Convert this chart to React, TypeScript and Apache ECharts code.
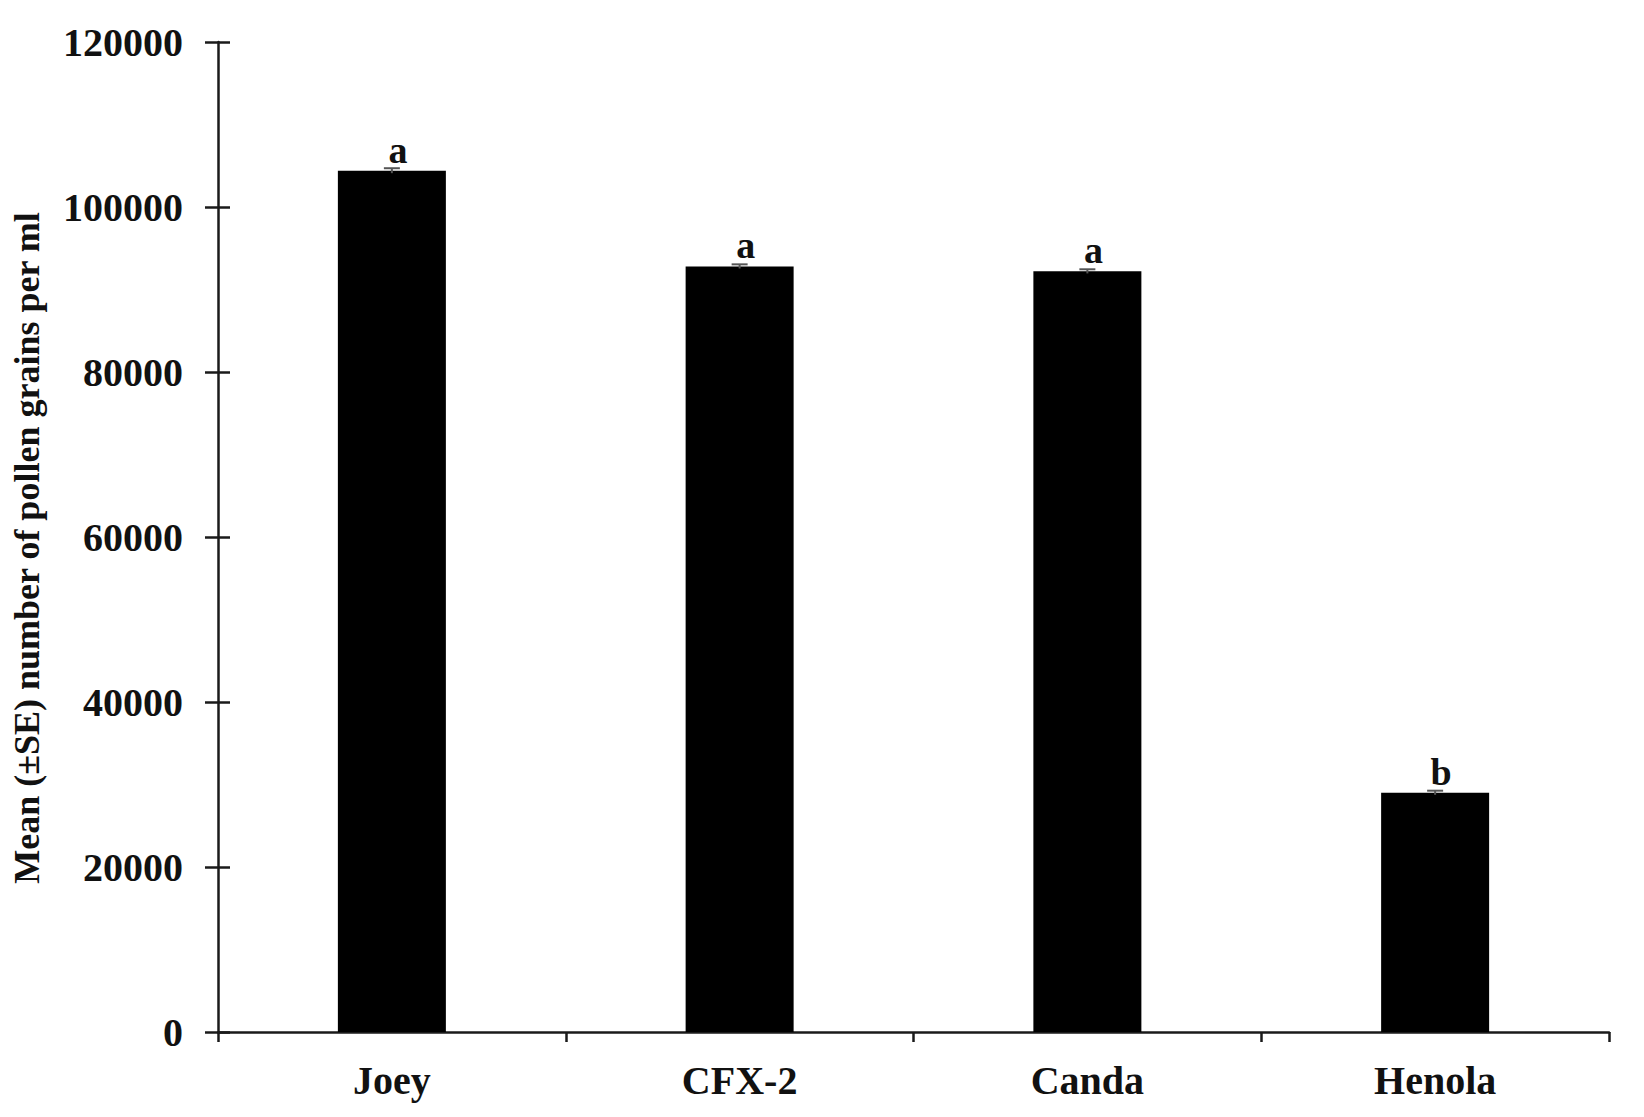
import React, { useEffect, useRef } from "react";
import * as echarts from "echarts";

const categories = ["Joey", "CFX-2", "Canda", "Henola"];
const meanValues = [104400, 92800, 92200, 29000];
const seValues = [300, 250, 250, 250];
const letters = ["a", "a", "a", "b"];
const yTicks = [0, 20000, 40000, 60000, 80000, 100000, 120000];
const yTitle = "Mean (\u00b1SE) number of pollen grains per ml";

const FONT = '"Liberation Serif", "Times New Roman", serif';

export default function App() {
  const ref = useRef<HTMLDivElement>(null);
  useEffect(() => {
    if (!ref.current) return;
    const chart = echarts.init(ref.current, undefined, { renderer: "svg" });
    const yMin = yTicks[0];
    const yMax = yTicks[yTicks.length - 1];
    const yInterval = yTicks[1] - yTicks[0];
    chart.setOption({
      animation: false,
      backgroundColor: "#ffffff",
      grid: {
        left: 218,
        right: 35,
        top: 42,
        bottom: 85,
        containLabel: false,
        outerBoundsMode: "none",
      },
      graphic: [
        {
          type: "text",
          x: 27,
          y: 548,
          rotation: Math.PI / 2,
          style: {
            text: yTitle,
            fill: "#111",
            font: `bold 36px ${FONT}`,
            align: "center",
            verticalAlign: "middle",
          },
        },
      ],
      xAxis: {
        type: "category",
        data: categories,
        axisLine: { lineStyle: { color: "#1a1a1a", width: 2.5 } },
        axisTick: { show: true, length: 10, lineStyle: { color: "#1a1a1a", width: 2.5 } },
        axisLabel: {
          margin: 28,
          color: "#111",
          fontFamily: FONT,
          fontWeight: "bold",
          fontSize: 40,
        },
      },
      yAxis: [
        {
          type: "value",
          min: yMin,
          max: yMax,
          interval: yInterval,
          splitLine: { show: false },
          axisLine: { show: true, lineStyle: { color: "#1a1a1a", width: 2.5 } },
          axisTick: { show: true, length: 13, lineStyle: { color: "#1a1a1a", width: 2.5 } },
          axisLabel: {
            margin: 35,
            color: "#111",
            fontFamily: FONT,
            fontWeight: "bold",
            fontSize: 40,
            formatter: (v: number) => String(v),
          },
        },
        {
          type: "value",
          position: "left",
          min: yMin,
          max: yMax,
          interval: yInterval,
          splitLine: { show: false },
          axisLine: { show: false },
          axisTick: { show: true, inside: true, length: 12, lineStyle: { color: "#1a1a1a", width: 2.5 } },
          axisLabel: { show: false },
        },
      ],
      series: [
        {
          type: "bar",
          data: meanValues,
          barWidth: 108,
          itemStyle: { color: "#000000" },
          label: {
            show: true,
            position: "top",
            distance: 2,
            offset: [6, 0],
            formatter: (p: any) => letters[p.dataIndex],
            color: "#111",
            fontFamily: FONT,
            fontWeight: "bold",
            fontSize: 38,
          },
          z: 2,
        },
        {
          type: "custom",
          data: meanValues.map((v, i) => [i, v, seValues[i]]),
          renderItem: (params: any, api: any) => {
            const i = api.value(0);
            const v = api.value(1);
            const se = api.value(2);
            const top = api.coord([i, v + se]);
            const bot = api.coord([i, v - se]);
            const hw = 8;
            const style = { stroke: "#555", lineWidth: 2 };
            return {
              type: "group",
              children: [
                { type: "line", shape: { x1: top[0], y1: top[1], x2: bot[0], y2: bot[1] }, style },
                { type: "line", shape: { x1: top[0] - hw, y1: top[1], x2: top[0] + hw, y2: top[1] }, style },
              ],
            };
          },
          z: 3,
        },
      ],
    });
    return () => chart.dispose();
  }, []);
  return (
    <div
      ref={ref}
      style={{ position: "fixed", left: 0, top: 0, width: 1644, height: 1117, background: "#fff" }}
    />
  );
}
